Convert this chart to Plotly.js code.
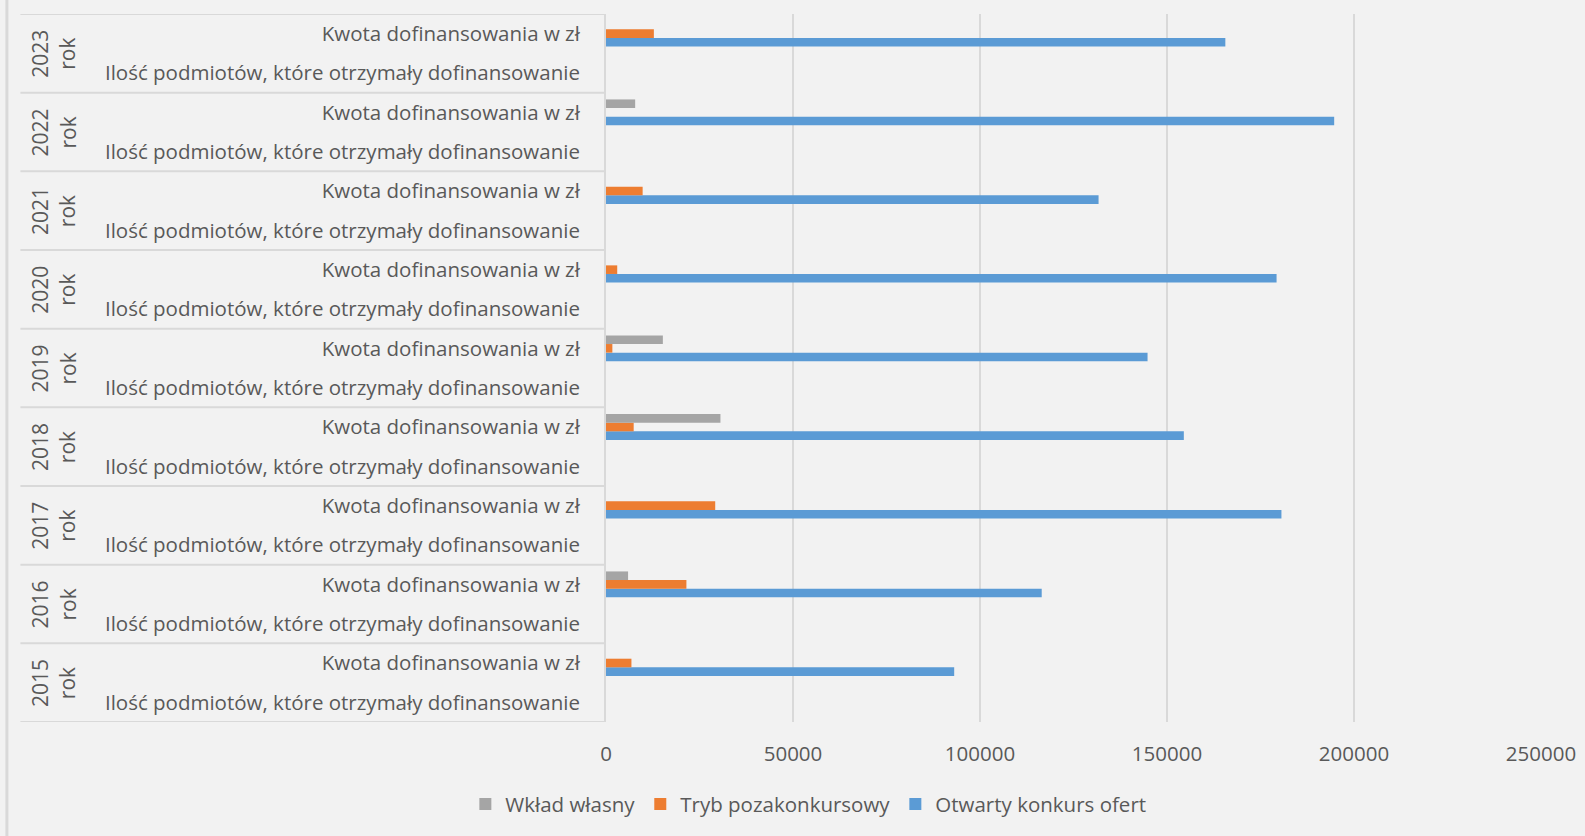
<!DOCTYPE html>
<html>
<head>
<meta charset="utf-8">
<script src="https://cdn.plot.ly/plotly-3.0.1.min.js"></script>
<style>
  html, body { margin: 0; padding: 0; background: #f2f2f2; }
  #chart { width: 1585px; height: 836px; }
</style>
</head>
<body>
<div id="chart"></div>
<script>
// ---- Data (bottom to top, as drawn) ----
const years = ['2015', '2016', '2017', '2018', '2019', '2020', '2021', '2022', '2023'];
const yearSuffix = 'rok';
const subcategories = ['Ilość podmiotów, które otrzymały dofinansowanie', 'Kwota dofinansowania w zł'];
const seriesNames = ['Wkład własny', 'Tryb pozakonkursowy', 'Otwarty konkurs ofert'];

// Kwota dofinansowania w zł
const wkladKwota   = [0, 5900, 0, 30600, 15200, 0, 0, 7800, 0];
const trybKwota    = [6800, 21500, 29200, 7400, 1700, 3000, 9800, 0, 12800];
const konkursKwota = [93100, 116500, 180600, 154500, 144800, 179300, 131700, 194700, 165600];
// Ilość podmiotów (too small to be visible on this scale)
const wkladIlosc   = [0, 0, 0, 0, 0, 0, 0, 0, 0];
const trybIlosc    = [0, 0, 0, 0, 0, 0, 0, 0, 0];
const konkursIlosc = [0, 0, 0, 0, 0, 0, 0, 0, 0];

const xTicks = [0, 50000, 100000, 150000, 200000, 250000];

// ---- Build category keys ----
const keys = [], tickText = [];
years.forEach(y => {
  subcategories.forEach(s => { keys.push(y + '|' + s); tickText.push(s); });
});
function interleave(ilosc, kwota) {
  const out = [];
  for (let i = 0; i < years.length; i++) { out.push(ilosc[i]); out.push(kwota[i]); }
  return out;
}

const colors = { 'Wkład własny': '#a5a5a5', 'Tryb pozakonkursowy': '#ed7d31', 'Otwarty konkurs ofert': '#5b9bd5' };
const values = {
  'Wkład własny': interleave(wkladIlosc, wkladKwota),
  'Tryb pozakonkursowy': interleave(trybIlosc, trybKwota),
  'Otwarty konkurs ofert': interleave(konkursIlosc, konkursKwota)
};

// Plotly draws first trace at the bottom of each group -> reverse order
const traces = seriesNames.slice().reverse().map(n => ({
  type: 'bar', orientation: 'h', name: n,
  x: values[n], y: keys,
  marker: { color: colors[n], line: { width: 0 } },
  hoverinfo: 'x+name'
}));

const textColor = '#595959';
const font = 'Open Sans, Noto Sans, sans-serif';
const lineColor = '#d9d9d9';

// Plot area geometry
const plotL = 605.6, plotR = 1540.6, plotT = 14, plotB = 722;
const plotW = plotR - plotL, plotH = plotB - plotT;
const tableLeft = (20 - plotL) / plotW;

const shapes = [];
for (let k = 0; k <= years.length; k++) {
  shapes.push({ type: 'line', xref: 'paper', yref: 'y', x0: tableLeft, x1: 0,
    y0: 2 * k - 0.5, y1: 2 * k - 0.5, line: { color: lineColor, width: 2 } });
}
// outer left border of chart area
shapes.push({ type: 'line', xref: 'paper', yref: 'paper',
  x0: (6.5 - plotL) / plotW, x1: (6.5 - plotL) / plotW,
  y0: -(836 - plotB) / plotH, y1: 1 + plotT / plotH,
  line: { color: lineColor, width: 3 } });

const annotations = years.map((y, i) => ({
  xref: 'paper', yref: 'y', x: (53 - plotL) / plotW, y: 2 * i + 0.5,
  text: y + '<br>' + yearSuffix, textangle: -90, showarrow: false,
  xanchor: 'center', yanchor: 'middle',
  font: { family: font, size: 21, color: textColor }
}));

const layout = {
  width: 1585, height: 836,
  paper_bgcolor: '#f2f2f2', plot_bgcolor: '#f2f2f2',
  margin: { l: plotL, r: 1585 - plotR, t: plotT, b: 836 - plotB, pad: 0 },
  barmode: 'group', bargap: 0.344, bargroupgap: 0,
  xaxis: {
    range: [0, 250000], tickvals: xTicks, ticktext: xTicks.map(String),
    showgrid: true, gridcolor: lineColor, gridwidth: 2,
    zeroline: false, showline: false, ticks: '',
    ticklabelstandoff: 17,
    tickfont: { family: font, size: 20.5, color: textColor }
  },
  yaxis: {
    type: 'category', categoryorder: 'array', categoryarray: keys,
    range: [-0.5, keys.length - 0.5],
    tickvals: keys, ticktext: tickText,
    showgrid: false, zeroline: false, showline: true, linecolor: lineColor, linewidth: 2,
    ticks: '', ticklabelstandoff: 20,
    tickfont: { family: font, size: 20.5, color: textColor }
  },
  shapes: shapes,
  annotations: annotations,
  showlegend: true,
  legend: {
    orientation: 'h', traceorder: 'reversed',
    xref: 'container', yref: 'container', x: 0.51, y: 0.038,
    xanchor: 'center', yanchor: 'middle',
    font: { family: font, size: 20.5, color: textColor },
    bgcolor: 'rgba(0,0,0,0)'
  }
};

Plotly.newPlot('chart', traces, layout, { displayModeBar: false, staticPlot: true });
</script>
</body>
</html>
